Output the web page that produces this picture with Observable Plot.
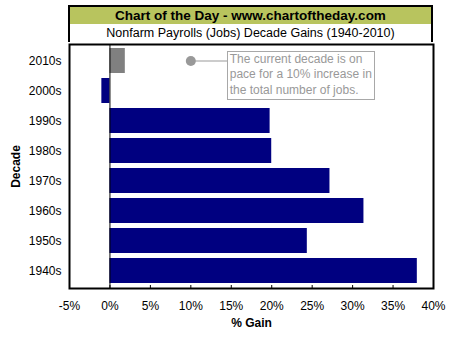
<!DOCTYPE html>
<html>
<head>
<meta charset="utf-8">
<script src="https://cdn.jsdelivr.net/npm/d3@7"></script>
<script src="https://cdn.jsdelivr.net/npm/@observablehq/plot@0.6"></script>
<style>
  html, body { margin: 0; padding: 0; background: #fff; }
  body { width: 454px; height: 340px; position: relative; overflow: hidden; font-family: Arial, "Liberation Sans", sans-serif; }
  #chart { position: absolute; left: 0; top: 0; }
  .band { position: absolute; left: 68px; width: 361px; border: 2px solid #000; text-align: center; color: #000; box-sizing: content-box; }
  #title { top: 5px; height: 17px; line-height: 17px; background: #b8c45e; font-weight: bold; font-size: 13.5px; }
  #subtitle { top: 24px; height: 18px; line-height: 18px; background: #fff; font-size: 12.5px; border-top: none; border-bottom: none; }
  #note { position: absolute; border: 1px solid #a8a8a8; background: #fff; color: #999; font-size: 12px; line-height: 15.3px; padding: 0 2px 1px 2px; white-space: nowrap; }
  svg [aria-label="x-axis label"], svg [aria-label="y-axis label"] { font-weight: bold; }
</style>
</head>
<body>
<div id="chart"></div>
<div class="band" id="title">Chart of the Day - www.chartoftheday.com</div>
<div class="band" id="subtitle">Nonfarm Payrolls (Jobs) Decade Gains (1940-2010)</div>
<script>
// Data
const decades = ["2010s", "2000s", "1990s", "1980s", "1970s", "1960s", "1950s", "1940s"];
const gains = [1.9, -1.0, 19.8, 20.0, 27.2, 31.4, 24.4, 38.0];
const partial = [true, false, false, false, false, false, false, false];
const xTicks = [-5, 0, 5, 10, 15, 20, 25, 30, 35, 40];
const noteDecade = "2010s";
const notePace = 10;       // projected % increase marker
const noteBoxAt = 14.5;    // where the callout box starts (% axis)
const noteLines = ["The current decade is on", "pace for a 10% increase in", "the total number of jobs."];

const rows = decades.map((d, i) => ({decade: d, gain: gains[i], partial: partial[i]}));

const chart = Plot.plot({
  width: 454,
  height: 340,
  marginTop: 44,
  marginBottom: 52,
  marginLeft: 69,
  marginRight: 21,
  style: {fontSize: "12px", fontFamily: "Arial, 'Liberation Sans', sans-serif", color: "#000", background: "transparent"},
  x: {domain: [-5, 40]},
  y: {domain: decades, paddingInner: 0.16, paddingOuter: 0.08},
  marks: [
    Plot.barX(rows, {x: "gain", y: "decade", fill: d => d.partial ? "#808080" : "#000080"}),
    Plot.ruleX([0], {stroke: "#000", strokeWidth: 1}),
    Plot.link([{x1: notePace, x2: noteBoxAt, y: noteDecade}], {x1: "x1", x2: "x2", y1: "y", y2: "y", stroke: "#999", strokeWidth: 1}),
    Plot.dot([{x: notePace, y: noteDecade}], {x: "x", y: "y", r: 5, fill: "#999", stroke: null}),
    Plot.frame({stroke: "#000", strokeWidth: 2}),
    Plot.axisX({ticks: xTicks, tickFormat: d => d + "%", tickSize: -3, tickPadding: 16, label: "% Gain", labelAnchor: "center", labelArrow: "none", labelOffset: 38}),
    Plot.axisY({tickSize: 0, tickPadding: 8, label: "Decade", labelAnchor: "center", labelArrow: "none", labelOffset: 58})
  ]
});
document.getElementById("chart").appendChild(chart);

// Callout box positioned through the chart's own scales
const xs = chart.scale("x");
const ys = chart.scale("y");
const note = document.createElement("div");
note.id = "note";
note.innerHTML = noteLines.join("<br>");
note.style.left = xs.apply(noteBoxAt) + "px";
note.style.top = (ys.apply(noteDecade) + 3) + "px";
document.body.appendChild(note);
</script>
</body>
</html>
